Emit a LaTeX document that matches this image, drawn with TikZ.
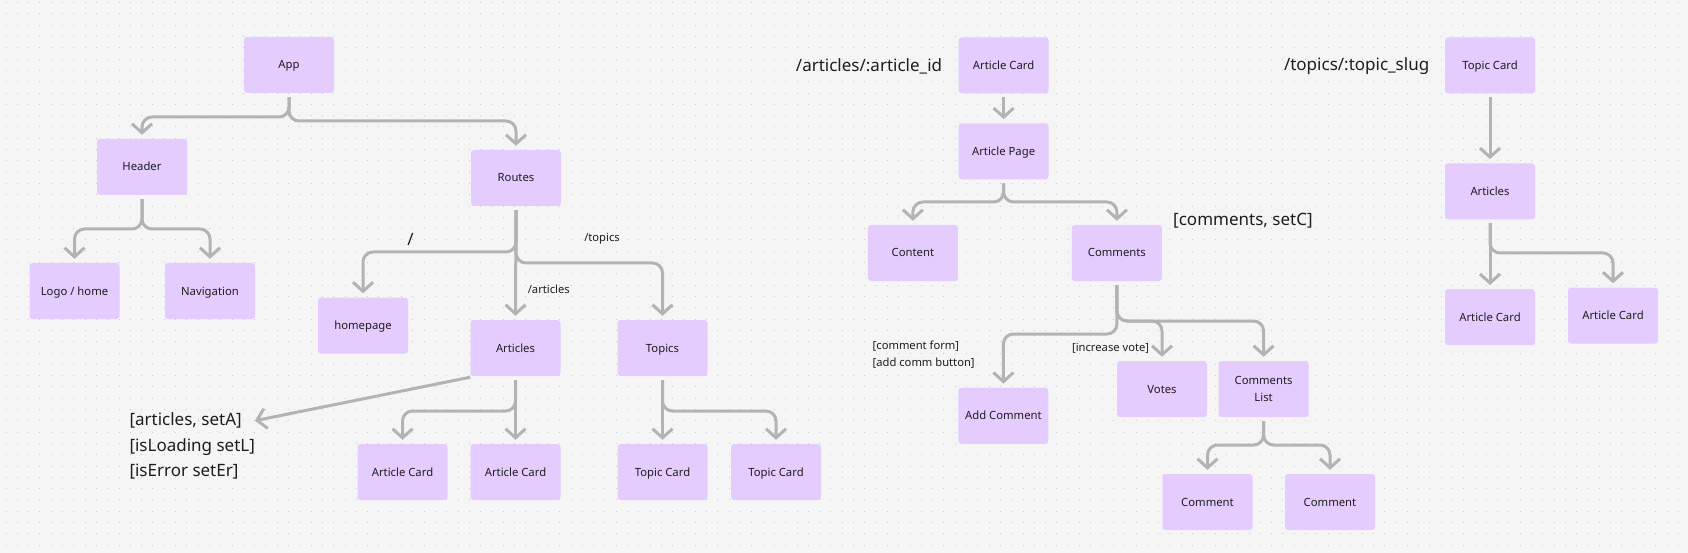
\documentclass[tikz,border=0pt]{standalone}
\usepackage{fontspec}
\setmainfont{Noto Sans}
\usepackage{xcolor}
\definecolor{lilac}{HTML}{E4CCFF}
\definecolor{ink}{HTML}{1E1E1E}
\definecolor{wire}{HTML}{B3B3B3}
\definecolor{paper}{HTML}{F5F5F5}
\definecolor{griddot}{HTML}{CACACA}
\newcommand{\cardfont}{\fontsize{11.3}{16.7}\selectfont}
\newcommand{\notefont}{\fontsize{11.2}{14}\selectfont}
\newcommand{\routefont}{\fontsize{17}{20}\selectfont}
\usepackage{tikz}
\usetikzlibrary{arrows.meta}
\tikzset{>={Straight Barb[length=9pt,width=20pt]}}
\tikzset{
  card/.style ={ font=\cardfont, rectangle, fill=lilac, text=ink, rounded corners=3pt,
                 inner sep=2pt, minimum width=90pt, minimum height=56pt, align=center,
                 text height=8pt, text depth=0pt },
  note/.style ={ font=\notefont, text=ink, inner sep=0pt },
  route/.style={ font=\routefont, text=ink, inner sep=0pt },
  link/.style ={ ->, draw=wire, line width=3pt, rounded corners=10pt },
  dotrow/.style={ draw=griddot, line width=1pt, dash pattern=on 1pt off 10.3pt }
}

\begin{document}
\begin{tikzpicture}[x=1pt,y=-1pt]

\useasboundingbox (0,0) rectangle (1688,553);
\fill[paper] (0,0) rectangle (1688,553);
\foreach \j in {0,...,48}
  \draw[dotrow] (5.5,{2.7+11.3*\j}) -- (1688,{2.7+11.3*\j});

% routes tree
\node[card] (App)      at (289,65)    {App};
\node[card] (Header)   at (142,167)   {Header};
\node[card] (Logo)     at (74.5,291)  {Logo / home};
\node[card] (Nav)      at (210,291)   {Navigation};
\node[card] (Routes)   at (516,178)   {Routes};
\node[card] (Home)     at (363,325.5) {homepage};
\node[card] (Articles) at (515.5,348) {Articles};
\node[card] (Topics)   at (662.5,348) {Topics};
\node[card] (ArtCardA) at (402.5,472) {Article Card};
\node[card] (ArtCardB) at (515.5,472) {Article Card};
\node[card] (TopCardA) at (662.5,472) {Topic Card};
\node[card] (TopCardB) at (776,472)   {Topic Card};

\node[route] (rootLbl)     at (410.5,239.5) {/};
\node[note]  (topicsLbl)   at (602,238.3)   {/topics};
\node[note]  (articlesLbl) at (548.8,289.3) {/articles};
\node[route,anchor=west] (stateA) at (129.3,420.7) {[articles, setA]};
\node[route,anchor=west] (stateL) at (129.3,446.7) {[isLoading setL]};
\node[route,anchor=west] (stateE) at (129.3,471.7) {[isError setEr]};

\draw[link] ([yshift=-4pt]App.south) -- (App.south |- 0,117) -| ([yshift=4pt]Header.north);
\draw[link] ([yshift=-4pt]App.south) -- (App.south |- 0,121) -| ([yshift=4pt]Routes.north);
\draw[link] ([yshift=-4pt]Header.south) -- (Header.south |- 0,229) -| ([yshift=4pt]Logo.north);
\draw[link] ([yshift=-4pt]Header.south) -- (Header.south |- 0,229) -| ([yshift=4pt]Nav.north);
\draw[link] ([yshift=-4pt]Routes.south) -- (Routes.south |- 0,252) -| ([yshift=4pt]Home.north);
\draw[link] ([yshift=-4pt]Routes.south) -- ([yshift=4pt]Articles.north);
\draw[link] ([yshift=-4pt]Routes.south) -- (Routes.south |- 0,263) -| ([yshift=4pt]Topics.north);
\draw[link] ([yshift=-4pt]Articles.south) -- (Articles.south |- 0,411) -| ([yshift=4pt]ArtCardA.north);
\draw[link] ([yshift=-4pt]Articles.south) -- ([yshift=4pt]ArtCardB.north);
\draw[link] ([yshift=-4pt]Topics.south) -- ([yshift=4pt]TopCardA.north);
\draw[link] ([yshift=-4pt]Topics.south) -- (Topics.south |- 0,411) -| ([yshift=4pt]TopCardB.north);
\draw[link] ([yshift=-1pt]Articles.south west) -- ([xshift=13pt]stateA.east);

% article page tree
\node[route] (artIdLbl) at (869,66) {/articles/:article\_id};
\node[card] (ACard)    at (1003.6,65.3)  {Article Card};
\node[card] (APage)    at (1003.6,151.3) {Article Page};
\node[card] (Content)  at (912.9,253)    {Content};
\node[card] (Comments) at (1116.9,253)   {Comments};
\node[card] (AddComm)  at (1003.4,415.8) {Add Comment};
\node[card] (Votes)    at (1162,389)     {Votes};
\node[card,text height=24.7pt] (CommList) at (1263.6,389) {Comments\\List};
\node[card] (CommA)    at (1207.5,502)   {Comment};
\node[card] (CommB)    at (1330,502)     {Comment};

\node[route,anchor=west] (commState) at (1173,220.7) {[comments, setC]};
\node[note,anchor=west]  (formLbl)   at (872.5,345.7) {[comment form]};
\node[note,anchor=west]  (btnLbl)    at (872.5,362.7) {[add comm button]};
\node[note]              (voteLbl)   at (1110.6,348.7) {[increase vote]};

\draw[link] ([yshift=-4pt]ACard.south) -- ([yshift=4pt]APage.north);
\draw[link] ([yshift=-4pt]APage.south) -- (APage.south |- 0,202) -| ([yshift=4pt]Content.north);
\draw[link] ([yshift=-4pt]APage.south) -- (APage.south |- 0,202) -| ([yshift=4pt]Comments.north);
\draw[link] ([yshift=-4pt]Comments.south) -- (Comments.south |- 0,334) -| ([yshift=4pt]AddComm.north);
\draw[link] ([yshift=-4pt]Comments.south) -- (Comments.south |- 0,321) -| ([yshift=4pt]Votes.north);
\draw[link] ([yshift=-4pt]Comments.south) -- (Comments.south |- 0,321) -| ([yshift=4pt]CommList.north);
\draw[link] ([yshift=-4pt]CommList.south) -- (CommList.south |- 0,445) -| ([yshift=4pt]CommA.north);
\draw[link] ([yshift=-4pt]CommList.south) -- (CommList.south |- 0,445) -| ([yshift=4pt]CommB.north);

% topic page tree
\node[route] (slugLbl) at (1356.6,66) {/topics/:topic\_slug};
\node[card] (TCard)     at (1490,65.3)  {Topic Card};
\node[card] (TArticles) at (1490,191.3) {Articles};
\node[card] (TACardA)   at (1490,317.2) {Article Card};
\node[card] (TACardB)   at (1613,315.5) {Article Card};

\draw[link] ([yshift=-4pt]TCard.south) -- ([yshift=4pt]TArticles.north);
\draw[link] ([yshift=-4pt]TArticles.south) -- ([yshift=4pt]TACardA.north);
\draw[link] ([yshift=-4pt]TArticles.south) -- (TArticles.south |- 0,253) -| ([yshift=4pt]TACardB.north);

\end{tikzpicture}
\end{document}
